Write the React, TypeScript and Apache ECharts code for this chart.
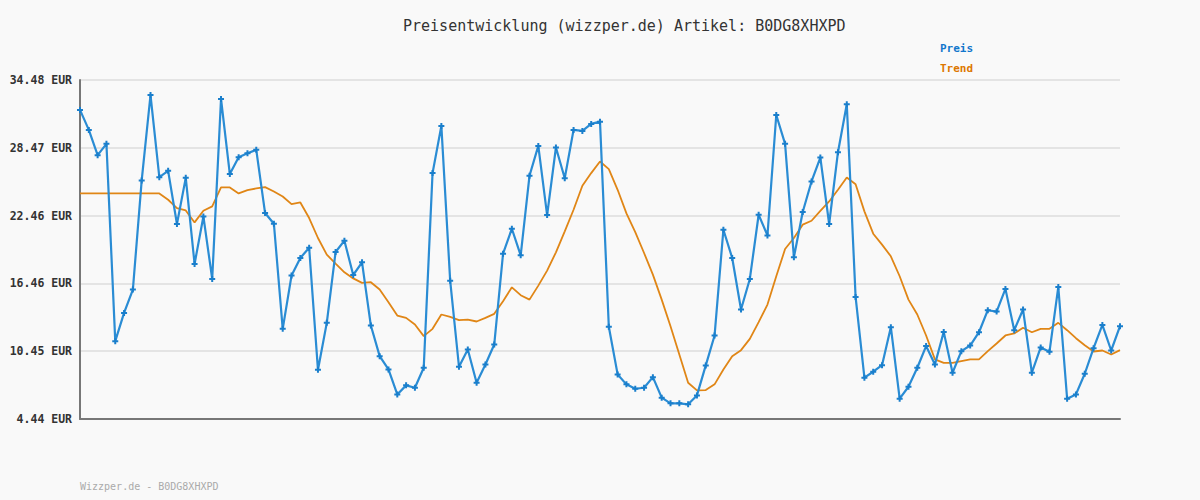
import React, { useEffect, useRef } from "react";
import * as echarts from "echarts";

const preis: number[] = [
  31.83, 30.06, 27.82, 28.82, 11.34, 13.84, 15.91, 25.58, 33.15, 25.87,
  26.43, 21.72, 25.81, 18.18, 22.39, 16.85, 32.8, 26.14, 27.64, 27.99,
  28.29, 22.69, 21.74, 12.43, 17.15, 18.71, 19.62, 8.8, 12.96, 19.24,
  20.24, 17.2, 18.32, 12.72, 10.01, 8.83, 6.62, 7.42, 7.21, 8.98,
  26.23, 30.41, 16.7, 9.07, 10.6, 7.65, 9.27, 11.04, 19.09, 21.3,
  18.94, 25.99, 28.64, 22.51, 28.5, 25.78, 30.06, 29.97, 30.59, 30.79,
  12.61, 8.39, 7.51, 7.12, 7.21, 8.15, 6.33, 5.83, 5.83, 5.74,
  6.53, 9.19, 11.84, 21.21, 18.71, 14.14, 16.85, 22.54, 20.71, 31.38,
  28.82, 18.77, 22.78, 25.49, 27.61, 21.72, 28.08, 32.33, 15.26, 8.1,
  8.63, 9.21, 12.58, 6.24, 7.3, 8.98, 10.9, 9.27, 12.16, 8.54,
  10.45, 10.95, 12.13, 14.08, 13.96, 15.97, 12.31, 14.14, 8.54, 10.78,
  10.39, 16.14, 6.24, 6.62, 8.45, 10.72, 12.78, 10.51, 12.66,
];

const trend: number[] = [
  24.43, 24.43, 24.43, 24.43, 24.43, 24.43, 24.43, 24.43, 24.43, 24.43,
  23.87, 23.13, 22.92, 21.86, 22.89, 23.28, 24.96, 24.96, 24.43, 24.72,
  24.87, 24.99, 24.6, 24.16, 23.48, 23.63, 22.25, 20.48, 19.0, 18.21,
  17.44, 16.9, 16.5, 16.56, 15.91, 14.79, 13.61, 13.4, 12.81, 11.78,
  12.43, 13.7, 13.49, 13.2, 13.25, 13.08, 13.4, 13.76, 14.88, 16.11,
  15.41, 15.02, 16.26, 17.59, 19.21, 21.07, 22.98, 25.11, 26.23, 27.26,
  26.58, 24.75, 22.66, 21.0, 19.15, 17.23, 15.02, 12.66, 10.16, 7.65,
  6.98, 7.0, 7.51, 8.83, 10.01, 10.54, 11.54, 13.02, 14.58, 17.09,
  19.5, 20.48, 21.66, 22.01, 22.89, 23.72, 24.75, 25.84, 25.25, 22.84,
  20.86, 19.89, 18.86, 17.09, 15.02, 13.7, 11.84, 9.72, 9.42, 9.42,
  9.57, 9.72, 9.72, 10.45, 11.13, 11.84, 12.02, 12.52, 12.13, 12.43,
  12.43, 12.96, 12.31, 11.6, 10.98, 10.42, 10.51, 10.16, 10.54,
];

const yTicks: number[] = [4.44, 10.448, 16.456, 22.464, 28.472, 34.48];
const categories: string[] = preis.map((_, i) => String(i + 1));

const title = "Preisentwicklung (wizzper.de) Artikel: B0DG8XHXPD";
const footer = "Wizzper.de - B0DG8XHXPD";
const MONO = "'DejaVu Sans Mono', 'Liberation Mono', monospace";

export default function App() {
  const ref = useRef<HTMLDivElement>(null);
  useEffect(() => {
    document.body.style.margin = "0";
    if (!ref.current) return;
    const chart = echarts.init(ref.current, undefined, { renderer: "svg" });
    chart.setOption({
      animation: false,
      backgroundColor: "#f9f9f9",
      title: {
        text: title,
        left: 403,
        top: 18,
        padding: 0,
        textStyle: { fontFamily: MONO, fontSize: 15, fontWeight: "normal", color: "#333" },
      },
      legend: {
        orient: "vertical",
        left: 930,
        top: 36,
        itemGap: 8,
        icon: "none",
        itemWidth: 0,
        itemHeight: 14,
        data: [
          { name: "Preis", textStyle: { color: "#1177cc" } },
          { name: "Trend", textStyle: { color: "#dd7700" } },
        ],
        textStyle: { fontFamily: MONO, fontSize: 11, fontWeight: "bold" },
      },
      grid: { left: 80, right: 80, top: 80, bottom: 81, containLabel: false },
      xAxis: {
        type: "category",
        data: categories,
        boundaryGap: false,
        axisLine: { show: true, lineStyle: { color: "#777", width: 2 } },
        axisTick: { show: false },
        axisLabel: { show: false },
        splitLine: { show: false },
      },
      yAxis: {
        type: "value",
        min: 4.44,
        max: 34.48,
        axisLine: { show: true, lineStyle: { color: "#777", width: 2 } },
        axisTick: { show: false, customValues: yTicks },
        axisLabel: {
          customValues: yTicks,
          formatter: (v: number) => v.toFixed(2) + " EUR",
          fontFamily: MONO,
          fontSize: 11.5,
          fontWeight: "bold",
          color: "#333",
          margin: 8,
        },
        splitLine: { show: true, lineStyle: { color: "#e4e4e4", width: 2 } },
      },
      series: [
        {
          name: "Preis",
          type: "line",
          data: preis,
          symbol: "path://M2,0H4V2H6V4H4V6H2V4H0V2H2Z",
          symbolSize: 6,
          showSymbol: true,
          showAllSymbol: true,
          itemStyle: { color: "#1a7fcc" },
          lineStyle: { color: "#2a8cd4", width: 2.2 },
          z: 3,
        },
        {
          name: "Trend",
          type: "line",
          data: trend,
          symbol: "none",
          itemStyle: { color: "#e08616" },
          lineStyle: { color: "#e08616", width: 1.8 },
          z: 2,
        },
      ],
      graphic: [
        {
          type: "text",
          left: 80,
          top: 481,
          style: { text: footer, font: "10px " + MONO, fill: "#aaa" },
        },
      ],
    });
    return () => chart.dispose();
  }, []);
  return <div ref={ref} style={{ width: 1200, height: 500 }} />;
}
